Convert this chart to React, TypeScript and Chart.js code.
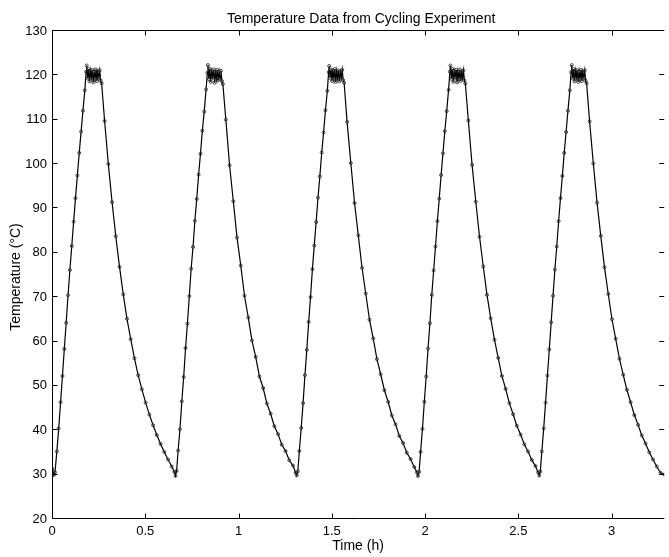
import React, { useEffect, useRef } from "react";
import { Chart, registerables } from "chart.js";

Chart.register(...registerables);

const TITLE = "Temperature Data from Cycling Experiment";
const X_LABEL = "Time (h)";
const Y_LABEL = "Temperature (°C)";

const xTicks = [0, 0.5, 1, 1.5, 2, 2.5, 3];
const xTickLabels = ["0", "0.5", "1", "1.5", "2", "2.5", "3"];
const yTicks = [20, 30, 40, 50, 60, 70, 80, 90, 100, 110, 120, 130];
const yTickLabels = ["20", "30", "40", "50", "60", "70", "80", "90", "100", "110", "120", "130"];

const X_MIN = 0;
const X_MAX = 3.282;
const Y_MIN = 20;
const Y_MAX = 130;

// [time (h), temperature (°C)]
const cycle1: [number, number][] = [
  [0.0, 31.2], [0.005, 30.4], [0.01, 29.7], [0.016, 30.3],
  [0.026, 35.0], [0.036, 40.2], [0.046, 46.1], [0.056, 52.0], [0.066, 58.1], [0.076, 64.0], [0.086, 70.2], [0.096, 75.9], [0.106, 81.3], [0.116, 86.8], [0.126, 92.1], [0.136, 97.2], [0.146, 102.3], [0.156, 107.1], [0.166, 111.8], [0.176, 116.4], [0.183, 120.6],
  [0.186, 122.0], [0.191, 119.1], [0.196, 121.2], [0.201, 118.4], [0.206, 120.8], [0.211, 119.2], [0.216, 121.0], [0.221, 118.2], [0.226, 120.6], [0.231, 119.0], [0.236, 121.1], [0.241, 118.5], [0.246, 120.4], [0.251, 119.3], [0.256, 120.9], [0.261, 118.6],
  [0.266, 118.0], [0.282, 109.5], [0.302, 99.8], [0.322, 91.2], [0.342, 83.5], [0.362, 76.6], [0.382, 70.4], [0.402, 64.9], [0.422, 60.3], [0.442, 56.0], [0.462, 52.2], [0.482, 49.0], [0.502, 46.0], [0.522, 43.3], [0.542, 40.9], [0.562, 38.7], [0.582, 36.7], [0.602, 34.9], [0.622, 33.2], [0.642, 31.6], [0.656, 30.4],
];

const cycle2: [number, number][] = [
  [0.662, 29.5], [0.668, 30.6],
  [0.676, 35.2], [0.686, 40.0], [0.696, 46.3], [0.706, 51.8], [0.716, 58.3], [0.726, 63.8], [0.736, 70.0], [0.746, 76.2], [0.756, 81.1], [0.766, 87.0], [0.776, 91.9], [0.786, 97.4], [0.796, 102.1], [0.806, 107.3], [0.816, 111.6], [0.826, 116.6], [0.833, 120.4],
  [0.836, 122.1], [0.841, 118.9], [0.846, 121.3], [0.851, 118.3], [0.856, 120.7], [0.861, 119.4], [0.866, 121.1], [0.871, 118.1], [0.876, 120.5], [0.881, 118.9], [0.886, 121.0], [0.891, 118.6], [0.896, 120.6], [0.901, 119.1], [0.906, 120.8], [0.911, 118.5],
  [0.916, 117.8], [0.932, 109.8], [0.952, 99.5], [0.972, 91.4], [0.992, 83.2], [1.012, 76.9], [1.032, 70.1], [1.052, 65.2], [1.072, 60.0], [1.092, 56.3], [1.112, 51.9], [1.132, 49.3], [1.152, 45.8], [1.172, 43.5], [1.192, 40.7], [1.212, 38.9], [1.232, 36.5], [1.252, 35.1], [1.272, 33.0], [1.292, 31.8], [1.306, 30.2],
];

const cycle3: [number, number][] = [
  [1.312, 29.6], [1.318, 30.5],
  [1.326, 35.1], [1.336, 40.3], [1.346, 45.9], [1.356, 52.2], [1.366, 57.9], [1.376, 64.2], [1.386, 69.8], [1.396, 76.1], [1.406, 81.4], [1.416, 86.7], [1.426, 92.2], [1.436, 97.0], [1.446, 102.4], [1.456, 106.9], [1.466, 111.9], [1.476, 116.3], [1.483, 120.5],
  [1.486, 121.9], [1.491, 119.2], [1.496, 121.1], [1.501, 118.5], [1.506, 120.9], [1.511, 119.0], [1.516, 121.2], [1.521, 118.3], [1.526, 120.7], [1.531, 119.1], [1.536, 120.9], [1.541, 118.4], [1.546, 120.5], [1.551, 119.2], [1.556, 121.0], [1.561, 118.7],
  [1.566, 118.1], [1.582, 109.3], [1.602, 100.0], [1.622, 91.0], [1.642, 83.7], [1.662, 76.4], [1.682, 70.6], [1.702, 64.7], [1.722, 60.5], [1.742, 55.8], [1.762, 52.4], [1.782, 48.8], [1.802, 46.2], [1.822, 43.1], [1.842, 41.1], [1.862, 38.5], [1.882, 36.9], [1.902, 34.7], [1.922, 33.3], [1.942, 31.5], [1.956, 30.3],
];

const cycle4: [number, number][] = [
  [1.962, 29.5], [1.968, 30.4],
  [1.976, 34.9], [1.986, 40.1], [1.996, 46.2], [2.006, 51.9], [2.016, 58.2], [2.026, 63.9], [2.036, 70.3], [2.046, 75.8], [2.056, 81.2], [2.066, 86.9], [2.076, 92.0], [2.086, 97.3], [2.096, 102.2], [2.106, 107.2], [2.116, 111.7], [2.126, 116.5], [2.133, 120.6],
  [2.136, 122.0], [2.141, 119.0], [2.146, 121.2], [2.151, 118.3], [2.156, 120.8], [2.161, 119.3], [2.166, 121.0], [2.171, 118.2], [2.176, 120.6], [2.181, 119.0], [2.186, 121.1], [2.191, 118.5], [2.196, 120.5], [2.201, 119.2], [2.206, 120.9], [2.211, 118.6],
  [2.216, 117.9], [2.232, 109.6], [2.252, 99.6], [2.272, 91.3], [2.292, 83.4], [2.312, 76.7], [2.332, 70.3], [2.352, 65.0], [2.372, 60.2], [2.392, 56.1], [2.412, 52.0], [2.432, 49.1], [2.452, 45.9], [2.472, 43.4], [2.492, 40.8], [2.512, 38.8], [2.532, 36.6], [2.552, 35.0], [2.572, 33.1], [2.592, 31.7], [2.606, 30.3],
];

const cycle5: [number, number][] = [
  [2.612, 29.6], [2.618, 30.5],
  [2.626, 35.0], [2.636, 40.2], [2.646, 46.0], [2.656, 52.1], [2.666, 58.0], [2.676, 64.1], [2.686, 70.1], [2.696, 76.0], [2.706, 81.2], [2.716, 86.9], [2.726, 92.1], [2.736, 97.1], [2.746, 102.3], [2.756, 107.0], [2.766, 111.8], [2.776, 116.4], [2.783, 120.5],
  [2.786, 122.1], [2.791, 119.1], [2.796, 121.2], [2.801, 118.4], [2.806, 120.8], [2.811, 119.2], [2.816, 121.0], [2.821, 118.3], [2.826, 120.6], [2.831, 119.0], [2.836, 121.0], [2.841, 118.5], [2.846, 120.5], [2.851, 119.3], [2.856, 120.9], [2.861, 118.6],
  [2.866, 118.0], [2.882, 109.4], [2.902, 99.9], [2.922, 91.1], [2.942, 83.6], [2.962, 76.5], [2.982, 70.5], [3.002, 64.8], [3.022, 60.4], [3.042, 55.9], [3.062, 52.3], [3.082, 48.9], [3.102, 46.1], [3.122, 43.2], [3.142, 41.0], [3.162, 38.6], [3.182, 36.8], [3.202, 34.8], [3.222, 33.2], [3.242, 31.6], [3.262, 30.2], [3.282, 29.8],
];

const FONT = "'Liberation Sans', Arial, Helvetica, sans-serif";

const matlabAxes = {
  id: "matlabAxes",
  afterDraw(chart: any) {
    const { ctx, chartArea: a, scales } = chart;
    const xs = scales.x;
    const ys = scales.y;
    const L = Math.round(a.left) + 0.5;
    const B = Math.round(a.bottom) + 0.5;
    const T = Math.round(a.top) + 0.5;
    const R = a.right;
    const tl = 5;
    ctx.save();
    ctx.strokeStyle = "#000";
    ctx.lineWidth = 1;
    ctx.beginPath();
    ctx.moveTo(L, T);
    ctx.lineTo(L, B);
    ctx.lineTo(R, B);
    ctx.moveTo(L, T);
    ctx.lineTo(R, T);
    for (const v of xTicks) {
      const px = Math.round(xs.getPixelForValue(v)) + 0.5;
      ctx.moveTo(px, B);
      ctx.lineTo(px, B - tl);
      ctx.moveTo(px, T);
      ctx.lineTo(px, T + tl);
    }
    for (const v of yTicks) {
      const py = Math.round(ys.getPixelForValue(v)) + 0.5;
      ctx.moveTo(L, py);
      ctx.lineTo(L + tl, py);
      ctx.moveTo(R, py);
      ctx.lineTo(R - tl, py);
    }
    ctx.stroke();

    ctx.fillStyle = "#000";
    ctx.font = `13px ${FONT}`;
    ctx.textAlign = "center";
    ctx.textBaseline = "alphabetic";
    xTicks.forEach((v, i) => {
      ctx.fillText(xTickLabels[i], xs.getPixelForValue(v), 535);
    });
    ctx.textAlign = "right";
    ctx.textBaseline = "middle";
    yTicks.forEach((v, i) => {
      ctx.fillText(yTickLabels[i], 47, ys.getPixelForValue(v) + 1);
    });

    ctx.font = `14px ${FONT}`;
    ctx.textAlign = "center";
    ctx.textBaseline = "alphabetic";
    const cx = (a.left + a.right) / 2;
    ctx.fillText(TITLE, cx + 3, 23);
    ctx.fillText(X_LABEL, cx, 550);

    ctx.translate(20, (a.top + a.bottom) / 2 + 3);
    ctx.rotate(-Math.PI / 2);
    ctx.fillText(Y_LABEL, 0, 0);
    ctx.restore();
  },
};

export default function App() {
  const ref = useRef<HTMLCanvasElement | null>(null);

  useEffect(() => {
    document.body.style.margin = "0";
    const points = [...cycle1, ...cycle2, ...cycle3, ...cycle4, ...cycle5].map(([x, y]) => ({ x, y }));
    const chart = new Chart(ref.current as HTMLCanvasElement, {
      type: "line",
      data: {
        datasets: [
          {
            data: points,
            borderColor: "#000",
            borderWidth: 1.2,
            pointRadius: 1.5,
            pointBorderWidth: 0.8,
            pointBorderColor: "#222",
            pointBackgroundColor: "rgba(0,0,0,0)",
            tension: 0,
            fill: false,
          },
        ],
      },
      options: {
        responsive: false,
        animation: false,
        layout: { padding: { left: 52, top: 30, right: 0, bottom: 39 } },
        scales: {
          x: { type: "linear", min: X_MIN, max: X_MAX, display: false },
          y: { type: "linear", min: Y_MIN, max: Y_MAX, display: false },
        },
        plugins: {
          legend: { display: false },
          tooltip: { enabled: false },
          title: { display: false },
        },
      },
      plugins: [matlabAxes],
    } as any);
    return () => chart.destroy();
  }, []);

  return (
    <div style={{ width: 669, height: 557, background: "#fff" }}>
      <canvas ref={ref} width={669} height={557} style={{ display: "block" }} />
    </div>
  );
}
